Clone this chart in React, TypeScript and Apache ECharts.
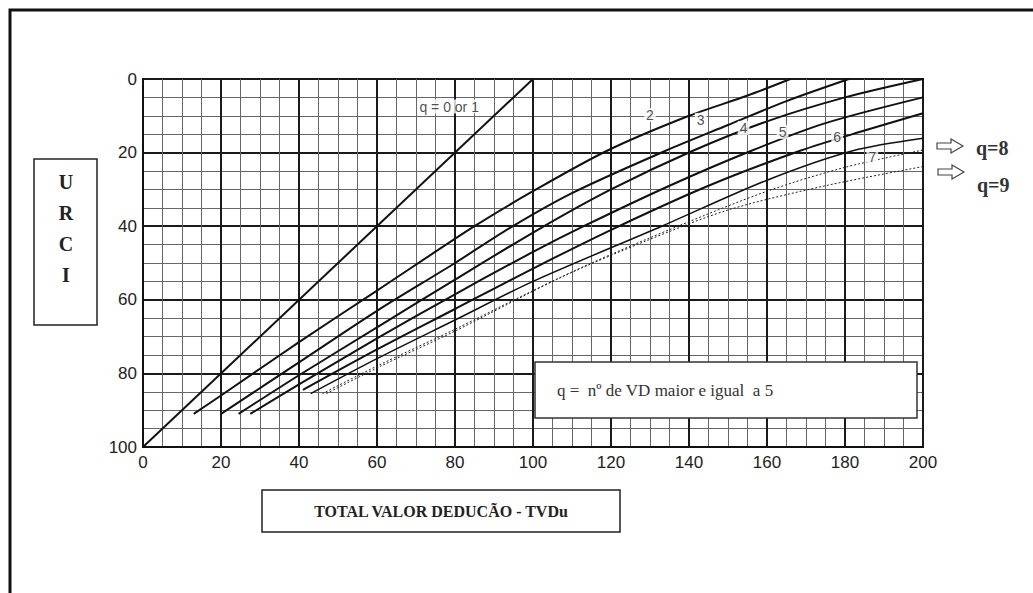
import React, { useEffect, useRef } from "react";
import * as echarts from "echarts";

// TVDu (x) vs URCI (y, inverted axis)
const q1: number[][] = [[0, 100], [100, 0]];
const q2: number[][] = [[13, 91], [20, 86], [40, 71.5], [60, 57.5], [85, 40], [100, 30.5], [119, 19.5], [140, 10], [155, 4.5], [166, 0]];
const q3: number[][] = [[20, 91], [40, 77], [60, 63], [80, 50], [94, 40.5], [110, 31], [134, 19.5], [150, 12.5], [165, 6], [181, 0]];
const q4: number[][] = [[24.5, 91], [40, 80.5], [60, 67.5], [80, 54.5], [102, 40.5], [120, 30], [141, 19.5], [160, 11.5], [180, 5], [200, 0]];
const q5: number[][] = [[27.5, 91], [40, 83], [60, 70.5], [80, 58.5], [100, 47], [113, 40], [135, 29], [156, 19.5], [175, 12], [200, 5]];
const q6: number[][] = [[41, 84.5], [60, 73.5], [80, 62.5], [100, 51.5], [121, 40.5], [145, 29], [168.5, 19.5], [185, 14], [200, 9.3]];
const q7: number[][] = [[43, 85.5], [60, 76], [80, 65.5], [100, 55], [133, 40], [160, 27.5], [182, 19.5], [200, 16.1]];
const q8: number[][] = [[46, 85.5], [60, 78], [80, 68], [100, 57.5], [115, 50], [136, 40.5], [160, 30.5], [180, 24], [200, 19.3]];
const q9: number[][] = [[47, 85.5], [61, 78], [80, 68.5], [107, 54], [129, 44], [150, 35.6], [175, 29], [200, 23.8]];

const curveLabels: (string | number)[][] = [
  [78.5, 7.5, "q = 0 or 1"],
  [130, 9.8, "2"],
  [143, 11.1, "3"],
  [154, 13.3, "4"],
  [164, 14.4, "5"],
  [178, 15.7, "6"],
  [187, 21.3, "7"],
];

const xTitle = "TOTAL VALOR DEDUCÃO - TVDu";
const yTitleLetters = ["U", "R", "C", "I"];
const noteText = "q =  nº de VD maior e igual  a 5";
const arrowTexts = ["q=8", "q=9"];

export default function App() {
  const ref = useRef<HTMLDivElement>(null);
  useEffect(() => {
    if (!ref.current) return;
    const chart = echarts.init(ref.current, null, { renderer: "svg" });
    const solid = (data: number[][], w: number) => ({
      type: "line",
      data,
      smooth: 0.3,
      showSymbol: false,
      silent: true,
      lineStyle: { color: "#111", width: w },
      z: 5,
    });
    const dashed = (data: number[][]) => ({
      type: "line",
      data,
      smooth: 0.3,
      showSymbol: false,
      silent: true,
      lineStyle: { color: "#222", width: 1, type: [2, 2] },
      z: 5,
    });
    const arrow = (x: number, y: number) => ({
      type: "polygon",
      shape: {
        points: [
          [x, y - 3], [x + 14, y - 3], [x + 14, y - 7], [x + 26, y],
          [x + 14, y + 7], [x + 14, y + 3], [x, y + 3],
        ],
      },
      style: { fill: "#fff", stroke: "#444", lineWidth: 1.2 },
    });
    chart.setOption({
      animation: false,
      backgroundColor: "#fff",
      grid: { left: 143, top: 79, width: 780, height: 368, show: true, borderColor: "#111", borderWidth: 2, backgroundColor: "#fff" },
      xAxis: {
        type: "value", min: 0, max: 200, interval: 20,
        position: "bottom",
        axisLine: { show: true, onZero: false, lineStyle: { color: "#111", width: 2 } },
        axisTick: { show: false },
        axisLabel: { color: "#222", fontSize: 17, fontFamily: "Liberation Sans, Arial, sans-serif", margin: 7 },
        splitLine: { show: true, lineStyle: { color: "#1a1a1a", width: 2 } },
        minorTick: { show: true, splitNumber: 4, length: 0 },
        minorSplitLine: { show: true, lineStyle: { color: "#666", width: 1 } },
      },
      yAxis: {
        type: "value", min: 0, max: 100, interval: 20, inverse: true,
        axisLine: { show: true, lineStyle: { color: "#111", width: 2 } },
        axisTick: { show: false },
        axisLabel: { color: "#222", fontSize: 17, fontFamily: "Liberation Sans, Arial, sans-serif", margin: 6 },
        splitLine: { show: true, lineStyle: { color: "#1a1a1a", width: 2 } },
        minorTick: { show: true, splitNumber: 4, length: 0 },
        minorSplitLine: { show: true, lineStyle: { color: "#666", width: 1 } },
      },
      series: [
        solid(q1, 2),
        solid(q2, 2),
        solid(q3, 2),
        solid(q4, 2),
        solid(q5, 2),
        solid(q6, 2),
        solid(q7, 1.5),
        dashed(q8),
        dashed(q9),
        {
          type: "scatter",
          data: curveLabels,
          symbolSize: 0,
          silent: true,
          z: 10,
          label: {
            show: true,
            position: "inside",
            formatter: (p: any) => p.value[2],
            color: "#222",
            fontSize: 14,
            fontFamily: "Liberation Sans, Arial, sans-serif",
            backgroundColor: "#fff",
            padding: [0, 2],
          },
        },
      ],
      graphic: [
        { type: "polyline", shape: { points: [[10, 593], [10, 10], [1033, 10]] }, style: { stroke: "#111", lineWidth: 3, fill: null } },
        { type: "rect", shape: { x: 34, y: 159, width: 63, height: 166 }, style: { fill: "#fff", stroke: "#222", lineWidth: 1.5 } },
        ...yTitleLetters.map((t, i) => ({
          type: "text", x: 66, y: 182 + i * 31,
          style: { text: t, fill: "#222", font: "bold 20px 'Liberation Serif', 'Times New Roman', serif", align: "center", verticalAlign: "middle" },
        })),
        { type: "rect", shape: { x: 262, y: 490, width: 358, height: 42 }, style: { fill: "#fff", stroke: "#222", lineWidth: 1.5 } },
        { type: "text", x: 441, y: 511, style: { text: xTitle, fill: "#222", font: "bold 16px 'Liberation Serif', 'Times New Roman', serif", align: "center", verticalAlign: "middle" } },
        { type: "rect", z: 100, shape: { x: 535, y: 362, width: 382, height: 56 }, style: { fill: "#fff", stroke: "#333", lineWidth: 1.5 } },
        { type: "text", z: 101, x: 557, y: 390, style: { text: noteText, fill: "#333", font: "17px 'Liberation Serif', 'Times New Roman', serif", align: "left", verticalAlign: "middle" } },
        arrow(937, 146),
        arrow(938, 172),
        { type: "text", x: 976, y: 148, style: { text: arrowTexts[0], fill: "#333", font: "bold 20px 'Liberation Serif', 'Times New Roman', serif", align: "left", verticalAlign: "middle" } },
        { type: "text", x: 977, y: 185, style: { text: arrowTexts[1], fill: "#333", font: "bold 20px 'Liberation Serif', 'Times New Roman', serif", align: "left", verticalAlign: "middle" } },
      ],
    });
    return () => chart.dispose();
  }, []);
  return <div ref={ref} style={{ position: "absolute", left: 0, top: 0, width: 1033, height: 593 }} />;
}
